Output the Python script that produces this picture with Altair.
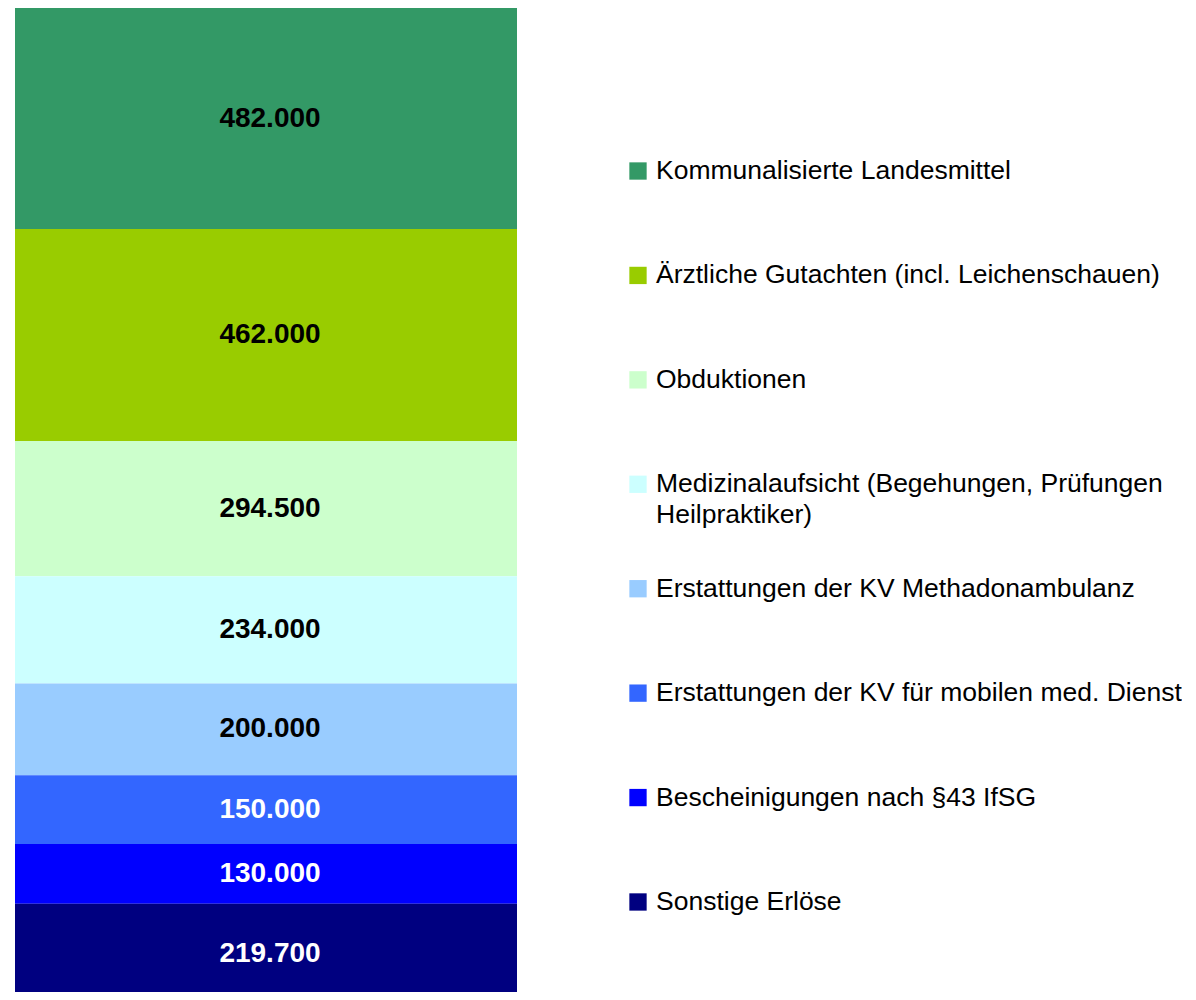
import altair as alt
import pandas as pd

categories = [
    "Kommunalisierte Landesmittel",
    "Ärztliche Gutachten (incl. Leichenschauen)",
    "Obduktionen",
    "Medizinalaufsicht (Begehungen, Prüfungen Heilpraktiker)",
    "Erstattungen der KV Methadonambulanz",
    "Erstattungen der KV für mobilen med. Dienst",
    "Bescheinigungen nach §43 IfSG",
    "Sonstige Erlöse",
]
values = [482000, 462000, 294500, 234000, 200000, 150000, 130000, 219700]
legend_lines = [
    ["Kommunalisierte Landesmittel"],
    ["Ärztliche Gutachten (incl. Leichenschauen)"],
    ["Obduktionen"],
    ["Medizinalaufsicht (Begehungen, Prüfungen", "Heilpraktiker)"],
    ["Erstattungen der KV Methadonambulanz"],
    ["Erstattungen der KV für mobilen med. Dienst"],
    ["Bescheinigungen nach §43 IfSG"],
    ["Sonstige Erlöse"],
]

palette = ["#339966", "#99CC00", "#CCFFCC", "#CCFFFF", "#99CCFF", "#3366FF", "#0000FF", "#000080"]

FONT = "Liberation Sans"
# visible part of the value axis (the reference cuts the bottom bar at the image edge)
visible_max = 2145000

df = pd.DataFrame({
    "cat": categories,
    "value": values,
    "idx": list(range(len(categories))),
    "label": [f"{v:,}".replace(",", ".") for v in values],
    "grp": ["A"] * len(categories),
    "legend": ["\n".join(l) for l in legend_lines],
})

color_scale = alt.Scale(domain=categories, range=palette)

base = alt.Chart(df).transform_stack(
    stack="value", groupby=["grp"], as_=["y0", "y1"], sort=[alt.SortField("idx", order="ascending")]
).transform_calculate(mid="(datum.y0 + datum.y1) / 2")

yscale = alt.Scale(domain=[0, visible_max], reverse=True, nice=False, zero=True)
xenc = alt.X("grp:N", axis=None, scale=alt.Scale(paddingInner=0, paddingOuter=0))

bars = base.mark_bar(width={"band": 1}, clip=True).encode(
    x=xenc,
    y=alt.Y("y0:Q", scale=yscale, axis=None),
    y2="y1:Q",
    color=alt.Color("cat:N", scale=color_scale, legend=None),
)

texts = base.mark_text(font=FONT, fontSize=28, fontWeight="bold", baseline="middle", dx=4).encode(
    x=xenc,
    y=alt.Y("mid:Q", scale=yscale, axis=None),
    text="label:N",
    color=alt.condition(alt.datum.idx >= 5, alt.value("white"), alt.value("black")),
)

bar_chart = alt.layer(bars, texts).properties(width=502, height=984)

lscale = alt.Scale(domain=[-1.561, 7.862], reverse=True, nice=False, zero=False)

leg_sq = alt.Chart(df).mark_square(size=300, opacity=1).encode(
    x=alt.value(21),
    y=alt.Y("idx:Q", scale=lscale, axis=None),
    color=alt.Color("cat:N", scale=color_scale, legend=None),
)
leg_tx = alt.Chart(df).mark_text(
    font=FONT, fontSize=26.5, align="left", baseline="top", dy=-13, lineBreak="\n", lineHeight=31, color="black"
).encode(
    x=alt.value(39),
    y=alt.Y("idx:Q", scale=lscale, axis=None),
    text="legend:N",
)
legend_chart = alt.layer(leg_sq, leg_tx).properties(width=500, height=984)

chart = alt.hconcat(bar_chart, legend_chart, spacing=100).properties(
    padding={"left": 7, "top": 0, "right": 0, "bottom": 0}
).configure_view(stroke=None)

chart.save("out.html", embed_options={"renderer": "svg", "actions": False})
